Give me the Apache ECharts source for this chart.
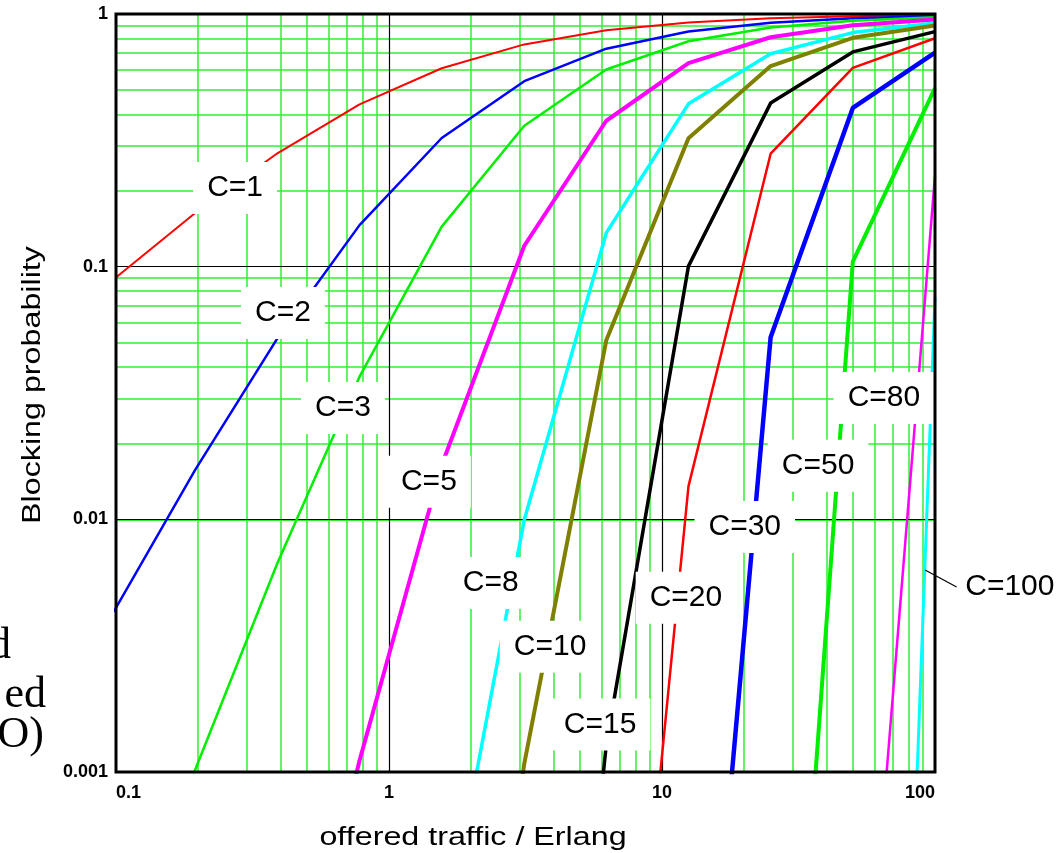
<!DOCTYPE html>
<html>
<head>
<meta charset="utf-8">
<title>Erlang B blocking probability</title>
<script src="https://cdn.jsdelivr.net/npm/echarts@6.0.0/dist/echarts.min.js"></script>
<style>
html, body { margin: 0; padding: 0; background: #fff; }
#chart { width: 1063px; height: 853px; }
</style>
</head>
<body>
<div id="chart"></div>
<script>
// 横轴：各折线顶点处的话务量 (Erlang)
var traffic = [0.098, 0.195, 0.39, 0.78, 1.56, 3.13, 6.25, 12.5, 25, 50, 100];

// 每条曲线的信道数
var channels = [1, 2, 3, 5, 8, 10, 15, 20, 30, 50, 80, 100];

// 阻塞概率，null 表示远低于图的下边界
var bC1   = [0.089, 0.163, 0.281, 0.439, 0.610, 0.758, 0.862, 0.926, 0.962, 0.980, 0.990];
var bC2   = [0.0043, 0.0157, 0.052, 0.146, 0.323, 0.542, 0.729, 0.853, 0.923, 0.961, 0.980];
var bC3   = [0.00014, 0.00102, 0.0067, 0.0367, 0.144, 0.361, 0.603, 0.780, 0.885, 0.941, 0.970];
var bC5   = [null, null, 0.000051, 0.00111, 0.0164, 0.121, 0.378, 0.639, 0.809, 0.902, 0.951];
var bC8   = [null, null, null, null, 0.000185, 0.00996, 0.136, 0.441, 0.696, 0.844, 0.921];
var bC10  = [null, null, null, null, 0.000005, 0.00108, 0.0511, 0.322, 0.622, 0.805, 0.901];
var bC15  = [null, null, null, null, null, 0.00000089, 0.00128, 0.1005, 0.444, 0.708, 0.852];
var bC20  = [null, null, null, null, null, null, 0.0000066, 0.0135, 0.280, 0.612, 0.802];
var bC30  = [null, null, null, null, null, null, null, 0.0000114, 0.0526, 0.425, 0.704];
var bC50  = [null, null, null, null, null, null, null, null, 0.0000036, 0.1048, 0.509];
var bC80  = [null, null, null, null, null, null, null, null, null, 0.0000223, 0.229];
var bC100 = [null, null, null, null, null, null, null, null, null, 1.7e-10, 0.0757];
var blocking = [bC1, bC2, bC3, bC5, bC8, bC10, bC15, bC20, bC30, bC50, bC80, bC100];

// 网格线
var xMajor = [1, 10];
var yMajor = [0.01, 0.1];
var xMinor = [0.2, 0.3, 0.4, 0.5, 0.6, 0.7, 0.8, 0.9,
	2, 3, 4, 5, 6, 7, 8, 9,
	20, 30, 40, 50, 60, 70, 80, 90];
var yMinor = [0.002, 0.003, 0.004, 0.005, 0.006, 0.007, 0.008, 0.009,
	0.02, 0.03, 0.04, 0.05, 0.06, 0.07, 0.08, 0.09,
	0.2, 0.3, 0.4, 0.5, 0.6, 0.7, 0.8, 0.9];

// 线条样式
var colors = ['#ff0000', '#0000ff', '#00ee00', '#ff00ff', '#00ffff', '#808000',
	'#000000', '#ff0000', '#0000ff', '#00ee00', '#ff00ff', '#00ffff'];
var widths = [2, 2.5, 2.5, 4, 3.5, 4, 3.5, 2.5, 4.5, 4, 2.5, 3];

// 曲线标签位置（数据坐标，文字中心）
var labelAt = [[0.273, 0.205], [0.409, 0.0656], [0.678, 0.0276], [1.40, 0.0141],
	[2.36, 0.0056], [3.89, 0.00313], [5.93, 0.00154], [12.24, 0.00489],
	[20.1, 0.00933], [37.3, 0.0163], [65.0, 0.0302], null];
// C=100 的标签在图外，用引线连接
var leader = [[92, 0.0063], [120, 0.0054]];
var outsideLabel = [188, 0.0054];

var FONT = '"Liberation Sans", Arial, sans-serif';

function pairs(vals) {
	var out = [];
	for (var i = 0; i < traffic.length; i++) {
		if (vals[i] != null) {
			out.push([traffic[i], vals[i]]);
		}
	}
	return out;
}

var gridLines = [];
xMinor.forEach(function(v) {
	gridLines.push({xAxis: v, lineStyle: {color: '#33ee33', width: 1.5}});
});
yMinor.forEach(function(v) {
	gridLines.push({yAxis: v, lineStyle: {color: '#33ee33', width: 1.5}});
});
xMajor.forEach(function(v) {
	gridLines.push({xAxis: v, lineStyle: {color: '#000', width: 1.2}});
});
yMajor.forEach(function(v) {
	gridLines.push({yAxis: v, lineStyle: {color: '#000', width: 1.2}});
});

var series = [{
	type: 'line',
	data: [],
	silent: true,
	z: 1,
	markLine: {
		silent: true,
		z: 1,
		symbol: ['none', 'none'],
		label: {show: false},
		emphasis: {disabled: true},
		lineStyle: {type: 'solid'},
		animation: false,
		data: gridLines
	}
}];

channels.forEach(function(c, i) {
	var s = {
		type: 'line',
		name: 'C=' + c,
		data: pairs(blocking[i]),
		symbol: 'none',
		clip: true,
		z: 3,
		lineStyle: {color: colors[i], width: widths[i]},
		emphasis: {disabled: true}
	};
	if (labelAt[i]) {
		s.markPoint = {
			symbol: 'circle',
			symbolSize: 1,
			silent: true,
			animation: false,
			itemStyle: {color: 'rgba(0,0,0,0)'},
			label: {
				show: true,
				position: 'inside',
				formatter: 'C=' + c,
				color: '#000',
				fontSize: 30,
				fontFamily: FONT,
				backgroundColor: '#fff',
				padding: [20, 14, 2, 14]
			},
			data: [{coord: labelAt[i]}]
		};
	}
	series.push(s);
});

var chart = echarts.init(document.getElementById('chart'));
chart.setOption({
	animation: false,
	backgroundColor: '#fff',
	grid: {
		left: 116,
		right: 128,
		top: 14,
		bottom: 81,
		containLabel: false,
		outerBoundsMode: 'none',
		show: true,
		backgroundColor: '#fff',
		borderColor: '#000',
		borderWidth: 0
	},
	xAxis: {
		type: 'log',
		logBase: 10,
		min: 0.1,
		max: 100,
		axisLine: {show: false, onZero: false},
		axisTick: {show: false},
		splitLine: {show: false},
		minorSplitLine: {show: false},
		axisLabel: {
			color: '#000',
			fontSize: 18,
			fontWeight: 'bold',
			fontFamily: FONT,
			margin: 12,
			alignMinLabel: 'left',
			alignMaxLabel: 'right'
		}
	},
	yAxis: {
		type: 'log',
		logBase: 10,
		min: 0.001,
		max: 1,
		axisLine: {show: false, onZero: false},
		axisTick: {show: false},
		splitLine: {show: false},
		minorSplitLine: {show: false},
		axisLabel: {
			color: '#000',
			fontSize: 18,
			fontWeight: 'bold',
			fontFamily: FONT,
			margin: 8
		}
	},
	series: series
});

// 图框、轴标题（原图文字被横向拉伸）、C=100 标签和左侧被裁切的文字
var tl = chart.convertToPixel({gridIndex: 0}, [0.1, 1]);
var br = chart.convertToPixel({gridIndex: 0}, [100, 0.001]);
var p0 = chart.convertToPixel({gridIndex: 0}, leader[0]);
var p1 = chart.convertToPixel({gridIndex: 0}, leader[1]);
var pl = chart.convertToPixel({gridIndex: 0}, outsideLabel);
var SERIF = '"Liberation Serif", "Times New Roman", serif';

chart.setOption({
	graphic: [{
		type: 'rect',
		z: 100,
		silent: true,
		shape: {x: tl[0], y: tl[1], width: br[0] - tl[0], height: br[1] - tl[1]},
		style: {fill: 'none', stroke: '#000', lineWidth: 3}
	}, {
		type: 'line',
		z: 100,
		silent: true,
		shape: {x1: p0[0], y1: p0[1], x2: p1[0], y2: p1[1]},
		style: {stroke: '#000', lineWidth: 1.2}
	}, {
		type: 'text',
		z: 100,
		silent: true,
		style: {
			x: pl[0], y: pl[1], text: 'C=100', fill: '#000',
			font: '30px ' + FONT, textAlign: 'center', textVerticalAlign: 'middle'
		}
	}, {
		type: 'text',
		silent: true,
		x: 473,
		y: 838,
		scaleX: 1.29,
		style: {x: 0, y: 0, text: 'offered traffic / Erlang', fill: '#000',
			font: '25px ' + FONT, textAlign: 'center', textVerticalAlign: 'middle'}
	}, {
		type: 'text',
		silent: true,
		x: 33,
		y: 385,
		rotation: Math.PI / 2,
		scaleX: 1.29,
		style: {x: 0, y: 0, text: 'Blocking probability', fill: '#000',
			font: '25px ' + FONT, textAlign: 'center', textVerticalAlign: 'middle'}
	}, {
		type: 'text',
		silent: true,
		style: {x: 11, y: 668, text: 'd', fill: '#000', font: '44px ' + SERIF,
			textAlign: 'right', textVerticalAlign: 'bottom'}
	}, {
		type: 'text',
		silent: true,
		style: {x: 46, y: 717, text: 'ed', fill: '#000', font: '44px ' + SERIF,
			textAlign: 'right', textVerticalAlign: 'bottom'}
	}, {
		type: 'text',
		silent: true,
		style: {x: 44, y: 757, text: 'O)', fill: '#000', font: '44px ' + SERIF,
			textAlign: 'right', textVerticalAlign: 'bottom'}
	}]
});
</script>
</body>
</html>
